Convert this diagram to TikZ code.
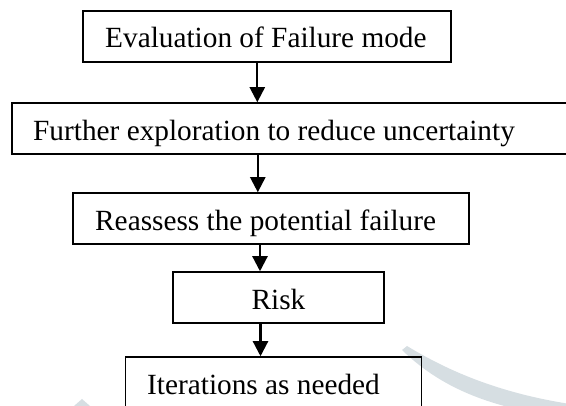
\documentclass[tikz,border=0pt]{standalone}
\usepackage{fontspec}
\setmainfont{Liberation Serif}
\usetikzlibrary{arrows.meta}
\definecolor{wmark}{RGB}{214,222,226}
\tikzset{
  stepbox/.style={draw=black, line width=1.5pt, rectangle, inner sep=0pt, minimum height=51pt},
  lbl/.style={inner sep=0pt, font=\fontsize{29.3}{35}\selectfont},
  arr/.style={draw=black, line width=2.2pt, -{Triangle[length=15pt,width=15pt]}}
}
\begin{document}
\begin{tikzpicture}[x=1pt,y=-1pt]
\useasboundingbox (0,0) rectangle (566,406);
\clip (0,0) rectangle (566,406);
% watermark
\fill[wmark] (407,346) .. controls (450,372) and (500,393) .. (570,404)
  -- (570,418) .. controls (500,410) and (445,392) .. (402,350) -- cycle;
\fill[wmark] (74,406) -- (82,399) -- (90,406) -- cycle;
% boxes
\node[stepbox, minimum width=368pt] (b1) at (267,36.5) {};
\node[stepbox, minimum width=588pt] (b2) at (306,128.5) {};
\node[stepbox, minimum width=396pt] (b3) at (271,218.5) {};
\node[stepbox, minimum width=211pt] (b4) at (278.5,297.5) {};
\node[stepbox, minimum width=296pt] (b5) at (273.6,382.5) {};
% labels
\node[lbl, anchor=base west] (t1) at (105,47.6) {Evaluation of Failure mode};
\node[lbl, anchor=base west] (t2) at (33,140.7) {Further exploration to reduce uncertainty};
\node[lbl, anchor=base west] (t3) at (95,231) {Reassess the potential failure};
\node[lbl, anchor=base] (t4) at (278.5,310) {Risk};
\node[lbl, anchor=base west] (t5) at (147,395) {Iterations as needed};
% arrow columns
\coordinate (a1) at (257.3,0);
\coordinate (a2) at (257.8,0);
\coordinate (a3) at (260,0);
\coordinate (a4) at (260.5,0);
\draw[arr] (b1.south -| a1) -- (b2.north -| a1);
\draw[arr] (b2.south -| a2) -- (b3.north -| a2);
\draw[arr] (b3.south -| a3) -- (b4.north -| a3);
\draw[arr] (b4.south -| a4) -- (b5.north -| a4);
\end{tikzpicture}
\end{document}
